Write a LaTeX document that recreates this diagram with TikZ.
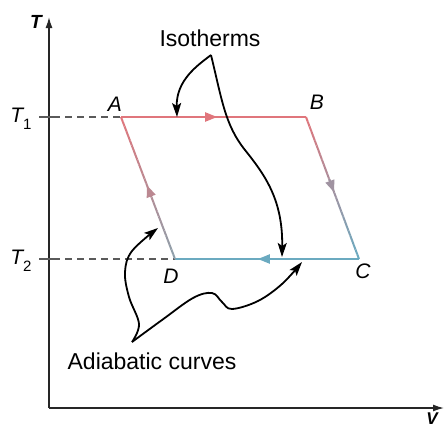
\documentclass[tikz,border=0pt]{standalone}
\usepackage{fontspec}
\setmainfont{Liberation Sans}
\usetikzlibrary{arrows.meta,calc}
\definecolor{cred}{HTML}{E0767C}
\definecolor{cblue}{HTML}{6BAAC0}
\definecolor{cgb}{HTML}{8E9FAA}
\definecolor{cdash}{HTML}{5A5A5A}
\newcommand\gradseg[4]{%
  \foreach \i in {0,...,29}{%
    \pgfmathtruncatemacro\p{100-\i*100/29}%
    \draw[cyc, color=#3!\p!#4] ($(#1)!{\i/30}!(#2)$) -- ($(#1)!{(\i+1)/30}!(#2)$);
  }%
}
\newcommand\tsub[1]{\textit{T}\raisebox{-0.32em}{\fontsize{15}{15}\selectfont\upshape #1}}
\begin{document}
\begin{tikzpicture}[x=1pt,y=-1pt,
  axis/.style={line width=1.4pt, black!85, -{Latex[length=11pt,width=7pt]}},
  cyc/.style={line width=2pt, line cap=butt},
  midtip/.style={line width=2pt, -{Triangle[length=12pt,width=9pt]}},
  annot/.style={line width=1.8pt, black, -{Stealth[length=14pt,width=9pt,inset=3pt]}},
  dashline/.style={line width=1.3pt, cdash, dash pattern=on 7pt off 5pt},
  tick/.style={line width=1.3pt, cdash},
  ptlbl/.style={font=\fontsize{21}{21}\selectfont\itshape, inner sep=0pt},
  axlbl/.style={font=\fontsize{19}{19}\selectfont\bfseries\itshape, inner sep=0pt},
  txt/.style={font=\fontsize{23}{23}\selectfont, inner sep=0pt}]
\useasboundingbox (0,0) rectangle (445,429);
% axes
\coordinate (O) at (49,408);
\coordinate (Ytop) at (49,17);
\coordinate (Xend) at (444,408);
\draw[axis] (O) -- (Ytop);
\draw[axis] (O) -- (Xend);
\node[axlbl] (Tlab) at (36,22) {T};
\node[axlbl, font=\fontsize{17}{17}\selectfont\bfseries\itshape, anchor=north] (Vlab) at (432,413) {V};
% cycle corners
\coordinate (A) at (121,117);
\coordinate (B) at (306,117);
\coordinate (C) at (359,259);
\coordinate (D) at (175,259);
% ticks and dashed lines
\coordinate (t1a) at (39,117); \coordinate (t1b) at (53,117);
\coordinate (t2a) at (39,259); \coordinate (t2b) at (53,259);
\draw[tick] (t1a) -- (t1b);
\draw[tick] (t2a) -- (t2b);
\draw[dashline] (t1b) -- (A);
\draw[dashline] (t2b) -- (D);
\node[ptlbl] (T1) at (21,119) {\tsub{1}};
\node[ptlbl] (T2) at (21,261) {\tsub{2}};
% cycle
\draw[cyc, cred] (A) -- (B);
\draw[cyc, cblue] (C) -- (D);
\gradseg{B}{C}{cred}{cblue}
\gradseg{A}{D}{cred}{cgb}
\draw[midtip, cred] ($(A)!0.44!(B)$) -- ($(A)!0.52!(B)$);
\draw[midtip, cred!45!cblue] ($(B)!0.44!(C)$) -- ($(B)!0.53!(C)$);
\draw[midtip, cblue] ($(C)!0.47!(D)$) -- ($(C)!0.55!(D)$);
\draw[midtip, cred!55!cgb] ($(D)!0.44!(A)$) -- ($(D)!0.52!(A)$);
% point labels
\node[ptlbl] (Al) at (115,104) {A};
\node[ptlbl] (Bl) at (317,102) {B};
\node[ptlbl] (Cl) at (363,271) {C};
\node[ptlbl] (Dl) at (171,276) {D};
% annotations
\node[txt] (iso) at (210,38) {Isotherms};
\node[txt] (adi) at (152,361) {Adiabatic curves};
\coordinate (isov) at (211,55);
\coordinate (isoT1) at (177,117);
\coordinate (isoT2) at (282,257);
\draw[annot] (isov) .. controls (198,65) and (176,80) .. (isoT1);
\draw[annot] (isov) .. controls (222,100) and (225,125) .. (245,150)
  .. controls (265,175) and (283,200) .. (isoT2);
\coordinate (adiv) at (132,342);
\coordinate (adiT1) at (158,228);
\coordinate (adiT2) at (302,262);
\draw[annot] plot[smooth, tension=0.6] coordinates {(adiv) (139,324) (129,297) (125,272) (132,251) (adiT1)};
\draw[annot] plot[smooth, tension=0.6] coordinates {(adiv) (162,320) (193,298) (212,293) (222,302) (232,309) (258,301) (282,284) (adiT2)};
\end{tikzpicture}
\end{document}
